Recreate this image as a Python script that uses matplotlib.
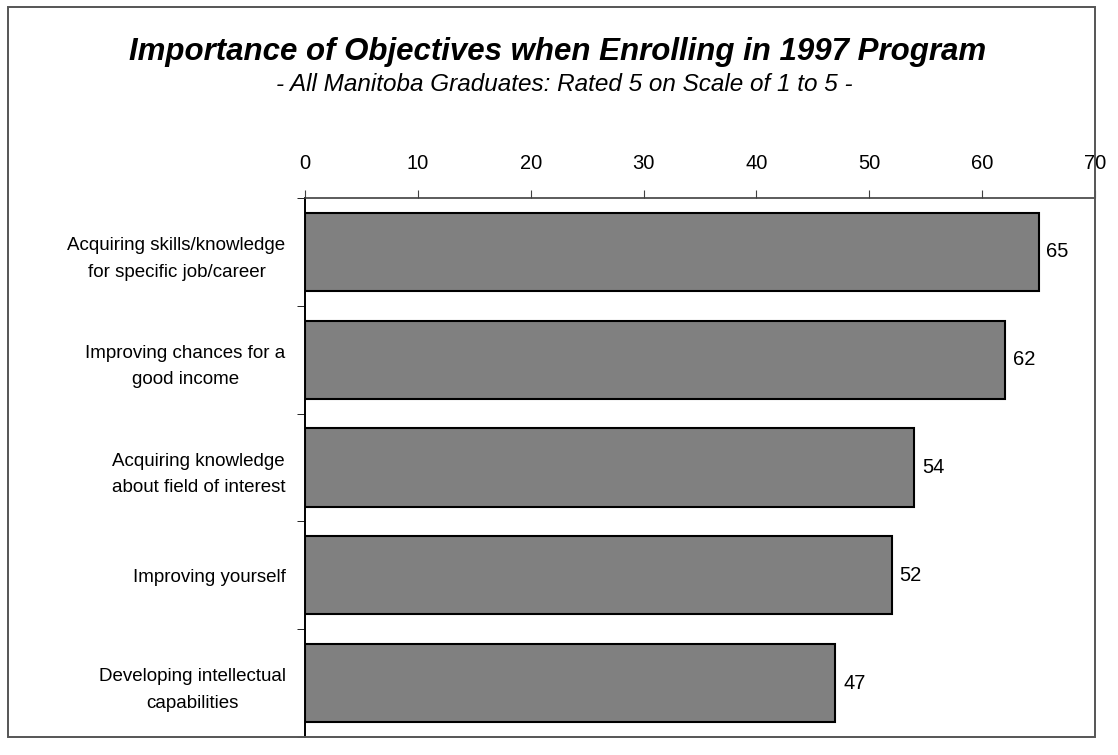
import matplotlib
matplotlib.use('Agg')
import matplotlib.pyplot as plt
from matplotlib.patches import Rectangle

plt.rcParams['font.family'] = ['Liberation Sans', 'DejaVu Sans']

categories = [
    'Acquiring skills/knowledge\nfor specific job/career',
    'Improving chances for a\ngood income',
    'Acquiring knowledge\nabout field of interest',
    'Improving yourself',
    'Developing intellectual\ncapabilities',
]
values = [65, 62, 54, 52, 47]
xticks = [0, 10, 20, 30, 40, 50, 60, 70]

fig = plt.figure(figsize=(11.18, 7.55), dpi=100)

# outer chart border
fig.patches.append(Rectangle((0.0072, 0.0238), 0.9723, 0.9669, transform=fig.transFigure,
                             fill=False, edgecolor='#555555', linewidth=1.4))

fig.text(0.499, 0.920, 'Importance of Objectives when Enrolling in 1997 Program',
         ha='center', va='baseline', fontsize=22.5, fontweight='bold', style='italic')
fig.text(0.505, 0.880, '- All Manitoba Graduates: Rated 5 on Scale of 1 to 5 -',
         ha='center', va='baseline', fontsize=17.5, style='italic')

ax = fig.add_axes([0.2728, 0.0238, 0.7066, 0.7139])
pos = list(range(len(categories)))
ax.barh(pos, values, height=0.725, color='#808080', edgecolor='black', linewidth=1.5)
for p, v in zip(pos, values):
    ax.text(v + 0.7, p, f'{v}', va='center', ha='left', fontsize=14.5)

ax.set_xlim(0, 70)
ax.set_ylim(len(categories) - 0.5, -0.5)
ax.set_xticks(xticks)
ax.xaxis.tick_top()
ax.tick_params(axis='x', direction='out', length=6, labelsize=14.5, pad=12, color='#404040')

ax.set_yticks(pos)
ax.set_yticklabels(categories, fontsize=13.5, linespacing=1.75, multialignment='center')
ax.tick_params(axis='y', length=0, pad=14)
ax.set_yticks([i - 0.5 for i in range(len(categories) + 1)], minor=True)
ax.tick_params(axis='y', which='minor', direction='out', length=6)

for s in ('right', 'bottom'):
    ax.spines[s].set_visible(False)
ax.spines['top'].set_linewidth(1.2)
ax.spines['top'].set_color('#404040')
ax.spines['left'].set_linewidth(1.4)

fig.savefig('out.png', dpi=100)
